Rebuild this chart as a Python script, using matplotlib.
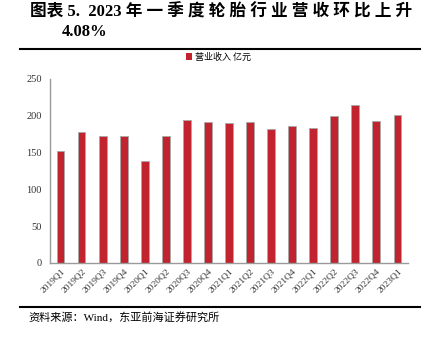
import matplotlib.pyplot as plt
from matplotlib.lines import Line2D
from matplotlib.patches import Patch

plt.rcParams['font.family'] = ['Liberation Serif', 'Noto Sans CJK SC', 'DejaVu Sans']

# 轮胎行业季度营收（亿元）
quarters = ['2019Q1', '2019Q2', '2019Q3', '2019Q4',
            '2020Q1', '2020Q2', '2020Q3', '2020Q4',
            '2021Q1', '2021Q2', '2021Q3', '2021Q4',
            '2022Q1', '2022Q2', '2022Q3', '2022Q4',
            '2023Q1']
revenue = [151.5, 178.5, 172.8, 172.2,
           139.2, 172.8, 194.5, 191.2,
           189.8, 192.2, 181.8, 185.8,
           183.2, 199.8, 214.8, 193.5,
           201.4]
yticks = [0, 50, 100, 150, 200, 250]

bar_color = '#C1232F'
axis_grey = '#9a9a9a'

fig = plt.figure(figsize=(4.32, 3.37), dpi=100)
ax = fig.add_axes([0.1157, 0.2196, 0.8287, 0.546])

x = range(len(quarters))
ax.bar(x, revenue, width=0.37, color=bar_color, edgecolor='#a8a8a8', linewidth=0.6)

ax.set_xlim(-0.5, len(quarters) - 0.5)
ax.set_ylim(0, 250)
ax.set_yticks(yticks)
ax.set_yticklabels([str(v) for v in yticks], fontsize=7.5, color='#333333')
ax.set_xticks(list(x))
ax.set_xticklabels(quarters, rotation=45, ha='right', rotation_mode='anchor',
                   fontsize=6.8, color='#333333')
ax.tick_params(axis='x', length=0, pad=3)
ax.tick_params(axis='y', length=0, pad=6)

for side in ('top', 'right'):
    ax.spines[side].set_visible(False)
for side in ('left', 'bottom'):
    ax.spines[side].set_color(axis_grey)
    ax.spines[side].set_linewidth(1.0)

# 图例
ax.legend(handles=[Patch(facecolor=bar_color, label='营业收入 亿元')],
          loc='center', bbox_to_anchor=(0.47, 1.12), frameon=False,
          handlelength=0.7, handleheight=0.7, handletextpad=0.3,
          prop={'family': ['Noto Sans CJK SC'], 'size': 6.5})

# 标题
fig.text(0.07, 0.963, '图表 5.  2023 年 一 季 度 轮 胎 行 业 营 收 环 比 上 升',
         fontsize=12, fontweight='bold', ha='left', va='center',
         family=['Liberation Serif', 'Noto Sans CJK SC'])
fig.text(0.143, 0.906, '4.08%', fontsize=12, fontweight='bold', ha='left',
         va='center', family=['Liberation Serif'])

# 上下分隔线
fig.add_artist(Line2D([0.046, 0.972], [0.855, 0.855], color='black', linewidth=1.5))
fig.add_artist(Line2D([0.046, 0.972], [0.089, 0.089], color='black', linewidth=1.5))

fig.text(0.065, 0.058, '资料来源：Wind，东亚前海证券研究所', fontsize=8,
         ha='left', va='center', family=['Liberation Serif', 'Noto Sans CJK SC'])

fig.savefig('out.png', dpi=100)
